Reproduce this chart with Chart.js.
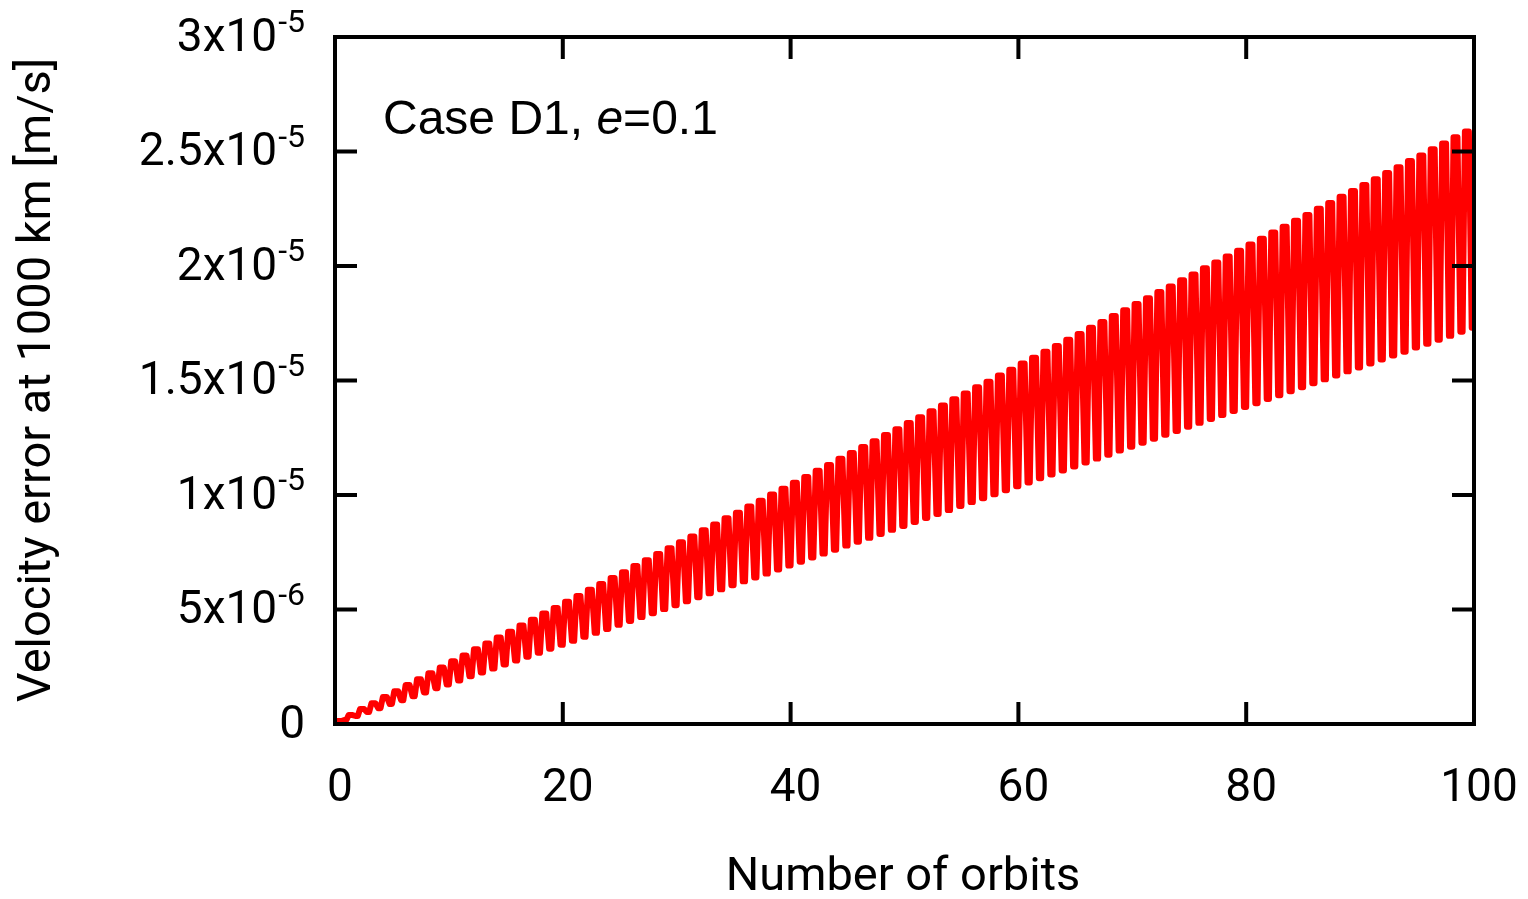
<!DOCTYPE html>
<html>
<head>
<meta charset="utf-8">
<script src="https://cdn.jsdelivr.net/npm/chart.js@4/dist/chart.umd.min.js"></script>
<style>
  html, body { margin: 0; padding: 0; background: #fff; }
  #wrap { width: 1528px; height: 899px; }
</style>
</head>
<body>
<div id="wrap"><canvas id="myChart" width="1528" height="899"></canvas></div>
<script>
// values, in units of 1e-6 m/s
var unit = 1e-6;
// top of each orbit's oscillation (orbit 0 .. 99)
var peaks = [
  0.13, 0.39, 0.66, 0.91, 1.18, 1.43, 1.70, 1.95, 2.22, 2.47,
  2.74, 2.99, 3.26, 3.51, 3.78, 4.03, 4.30, 4.55, 4.82, 5.07,
  5.34, 5.59, 5.86, 6.11, 6.38, 6.63, 6.90, 7.15, 7.42, 7.67,
  7.94, 8.19, 8.46, 8.71, 8.98, 9.23, 9.50, 9.75, 10.02, 10.27,
  10.54, 10.79, 11.06, 11.31, 11.58, 11.83, 12.10, 12.35, 12.62, 12.87,
  13.14, 13.39, 13.66, 13.91, 14.18, 14.43, 14.70, 14.95, 15.22, 15.47,
  15.74, 15.99, 16.26, 16.51, 16.78, 17.03, 17.30, 17.55, 17.82, 18.07,
  18.34, 18.59, 18.86, 19.11, 19.38, 19.63, 19.90, 20.15, 20.42, 20.67,
  20.94, 21.19, 21.46, 21.71, 21.98, 22.23, 22.50, 22.75, 23.02, 23.27,
  23.54, 23.79, 24.06, 24.31, 24.58, 24.83, 25.10, 25.35, 25.62, 25.87
];
// bottom at the start of each orbit (orbit 0 .. 100)
var troughs = [
  0.00, 0.17, 0.35, 0.52, 0.69, 0.87, 1.04, 1.21, 1.38, 1.56,
  1.73, 1.90, 2.08, 2.25, 2.42, 2.60, 2.77, 2.94, 3.11, 3.29,
  3.46, 3.63, 3.81, 3.98, 4.15, 4.33, 4.50, 4.67, 4.84, 5.02,
  5.19, 5.36, 5.54, 5.71, 5.88, 6.06, 6.23, 6.40, 6.57, 6.75,
  6.92, 7.09, 7.27, 7.44, 7.61, 7.79, 7.96, 8.13, 8.30, 8.48,
  8.65, 8.82, 9.00, 9.17, 9.34, 9.52, 9.69, 9.86, 10.03, 10.21,
  10.38, 10.55, 10.73, 10.90, 11.07, 11.25, 11.42, 11.59, 11.76, 11.94,
  12.11, 12.28, 12.46, 12.63, 12.80, 12.98, 13.15, 13.32, 13.49, 13.67,
  13.84, 14.01, 14.19, 14.36, 14.53, 14.71, 14.88, 15.05, 15.22, 15.40,
  15.57, 15.74, 15.92, 16.09, 16.26, 16.44, 16.61, 16.78, 16.95, 17.13,
  17.30
];
var xTicks = [0, 20, 40, 60, 80, 100];
var yTicks = [0, 5e-6, 1e-5, 1.5e-5, 2e-5, 2.5e-5, 3e-5];
var yTickBase = ['0', '5x10', '1x10', '1.5x10', '2x10', '2.5x10', '3x10'];
var yTickExp = ['', '-6', '-5', '-5', '-5', '-5', '-5'];
var xTitle = 'Number of orbits';
var yTitle = 'Velocity error at 1000 km [m/s]';
var caseLabel = ['Case D1, ', 'e', '=0.1'];

// each orbit: climb to the top, flat top, drop to the next bottom
var points = [];
for (var i = 0; i < peaks.length; i++) {
  points.push({x: i, y: troughs[i] * unit});
  points.push({x: i + 0.2, y: peaks[i] * unit});
  points.push({x: i + 0.55, y: peaks[i] * unit});
  points.push({x: i + 0.8, y: troughs[i + 1] * unit});
}
points.push({x: troughs.length - 1, y: troughs[troughs.length - 1] * unit});

var frame = {
  id: 'frame',
  afterDatasetsDraw: function(chart) {
    var c = chart.ctx, a = chart.chartArea;
    var xs = chart.scales.x, ys = chart.scales.y;
    c.save();
    c.strokeStyle = '#000';
    c.lineWidth = 4;
    c.strokeRect(a.left, a.top, a.right - a.left, a.bottom - a.top);
    var len = 22;
    c.beginPath();
    xTicks.forEach(function(v) {
      var px = xs.getPixelForValue(v);
      c.moveTo(px, a.bottom); c.lineTo(px, a.bottom - len);
      c.moveTo(px, a.top); c.lineTo(px, a.top + len);
    });
    yTicks.forEach(function(v) {
      var py = ys.getPixelForValue(v);
      c.moveTo(a.left, py); c.lineTo(a.left + len, py);
      c.moveTo(a.right, py); c.lineTo(a.right - len, py);
    });
    c.stroke();

    c.fillStyle = '#000';
    c.font = '46px Roboto';
    c.textAlign = 'center';
    c.textBaseline = 'middle';
    xTicks.forEach(function(v) {
      c.fillText(String(v), xs.getPixelForValue(v) + 5, 789);
    });

    // y labels with raised exponent
    yTicks.forEach(function(v, k) {
      var py = ys.getPixelForValue(v) + 2;
      var right = 305;
      c.textBaseline = 'middle';
      c.textAlign = 'right';
      if (yTickExp[k]) {
        c.font = '32px Roboto';
        var ew = c.measureText(yTickExp[k]).width;
        c.fillText(yTickExp[k], right, py - 15);
        c.font = '46px Roboto';
        c.fillText(yTickBase[k], right - ew - 1, py);
      } else {
        c.font = '46px Roboto';
        c.fillText(yTickBase[k], right, py);
      }
    });

    c.font = '47px Roboto';
    c.textAlign = 'center';
    c.fillText(xTitle, 903, 878);
    c.save();
    c.translate(38, 380);
    c.rotate(-Math.PI / 2);
    c.fillText(yTitle, 0, 0);
    c.restore();

    // case label, e in italics
    c.textAlign = 'left';
    c.textBaseline = 'alphabetic';
    var tx = 383, ty = 134;
    c.font = '48px "Liberation Sans"';
    c.fillText(caseLabel[0], tx, ty);
    tx += c.measureText(caseLabel[0]).width;
    c.font = 'italic 48px "Liberation Sans"';
    c.fillText(caseLabel[1], tx, ty);
    tx += c.measureText(caseLabel[1]).width;
    c.font = '48px "Liberation Sans"';
    c.fillText(caseLabel[2], tx, ty);
    c.restore();
  }
};

var myChart = document.getElementById('myChart').getContext('2d');
var lineChart = new Chart(myChart, {
  type: 'line',
  data: {
    datasets: [{
      label: 'velocity error',
      data: points,
      borderColor: '#ff0000',
      borderWidth: 6,
      borderJoinStyle: 'round',
      pointRadius: 0,
      tension: 0,
      fill: false
    }]
  },
  options: {
    responsive: false,
    animation: false,
    parsing: false,
    layout: { padding: { left: 327, right: 54, top: 37, bottom: 167 } },
    plugins: { legend: { display: false }, tooltip: { enabled: false } },
    scales: {
      x: {
        type: 'linear', min: 0, max: 100,
        ticks: { display: false },
        grid: { display: false },
        border: { display: false }
      },
      y: {
        type: 'linear', min: 0, max: 3e-5,
        ticks: { display: false },
        grid: { display: false },
        border: { display: false }
      }
    }
  },
  plugins: [frame]
});
</script>
</body>
</html>
